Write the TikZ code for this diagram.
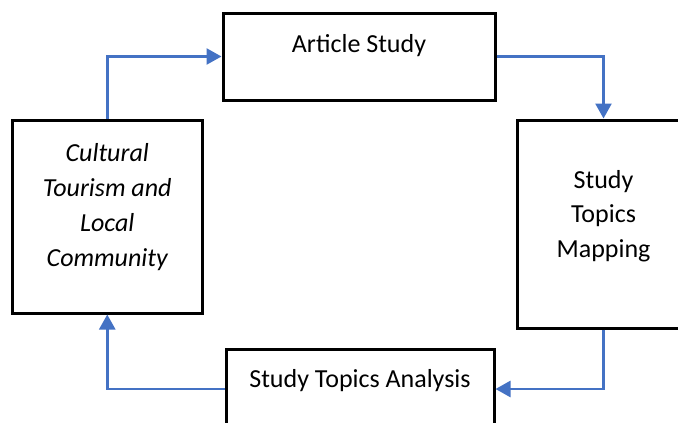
\documentclass[tikz,border=0pt]{standalone}
\usepackage{fontspec}
\setmainfont{Carlito}
\usetikzlibrary{arrows.meta}
\definecolor{flowBlue}{HTML}{4472C4}

\begin{document}
\begin{tikzpicture}[
  x=1pt, y=-1pt,
  box/.style={draw=black, line width=3pt, inner sep=0pt, align=center,
              font=\fontsize{26}{34.5}\selectfont, text height=18pt},
  topic/.style={box, font=\fontsize{26}{35}\selectfont\itshape},
  flow/.style={draw=flowBlue, line width=2.6pt, -{Triangle[length=15pt, width=16pt]}},
]
  \useasboundingbox (0,0) rectangle (678,423);
  \node[box, minimum width=272pt, minimum height=87pt, text depth=27pt] (article) at (359,56.5) {Article Study};
  \node[box, minimum width=173pt, minimum height=208pt, text height=88pt, text depth=22pt] (mapping) at (603.5,224) {Study\\ Topics\\ Mapping};
  \node[box, minimum width=268pt, minimum height=80pt, text depth=22pt] (analysis) at (360,389) {Study Topics Analysis};
  \node[topic, minimum width=189.5pt, minimum height=193pt, text height=120pt, text depth=21pt] (community) at (107.25,216.5)
    {Cultural\\ Tourism and\\ Local\\ Community};

  % cycle of steps
  \draw[flow] (community.north) |- (article.west);
  \draw[flow] (article.east) -| (mapping.north);
  \draw[flow] (mapping.south) |- (analysis.east);
  \draw[flow] (analysis.west) -| (community.south);
\end{tikzpicture}
\end{document}
